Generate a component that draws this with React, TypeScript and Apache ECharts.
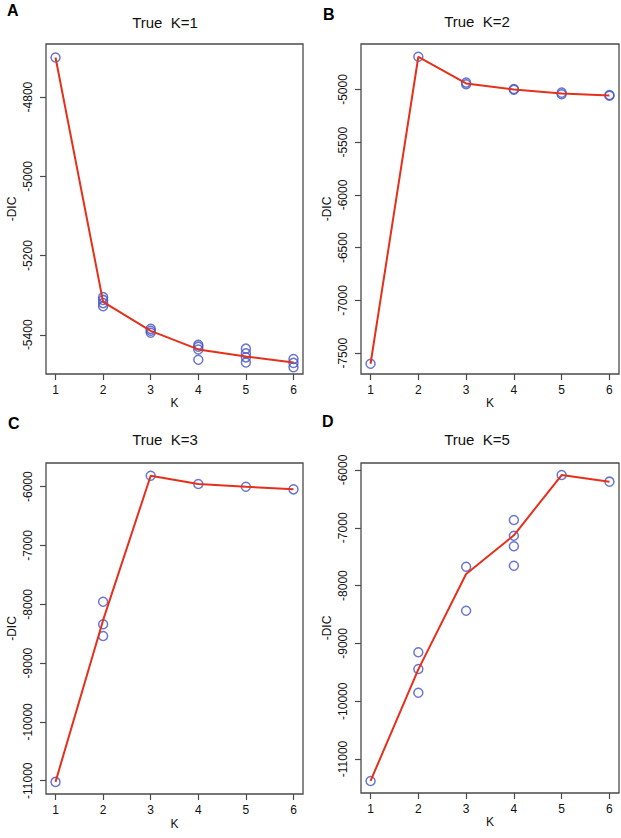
import React, { useEffect, useRef } from 'react';
import * as echarts from 'echarts';

// ---- data ----
const K = [1, 2, 3, 4, 5, 6];
const kTicks = [1, 2, 3, 4, 5, 6];
const titles = ['True  K=1', 'True  K=2', 'True  K=3', 'True  K=5'];
const letters = ['A', 'B', 'C', 'D'];

// individual runs (circles), one list per K
const runsA = [
  [-4700],
  [-5305, -5312, -5320, -5328],
  [-5385, -5390, -5395],
  [-5425, -5430, -5437, -5463],
  [-5435, -5447, -5457, -5470],
  [-5461, -5471, -5482],
];
const lineA = [-4700, -5317, -5390, -5437, -5455, -5470];
const ticksA = [-4800, -5000, -5200, -5400];

const runsB = [
  [-7600],
  [-4690],
  [-4935, -4950],
  [-4995, -5003],
  [-5030, -5045],
  [-5052, -5060],
];
const lineB = [-7600, -4690, -4943, -5000, -5038, -5057];
const ticksB = [-5000, -5500, -6000, -6500, -7000, -7500];

const runsC = [
  [-11020],
  [-7956, -8340, -8539],
  [-5813],
  [-5954],
  [-6000],
  [-6045],
];
const lineC = [-11020, -8270, -5813, -5954, -6000, -6045];
const ticksC = [-6000, -7000, -8000, -9000, -10000, -11000];

const runsD = [
  [-11380],
  [-9154, -9443, -9853],
  [-7673, -8434],
  [-6865, -7137, -7320, -7656],
  [-6087],
  [-6202],
];
const lineD = [-11380, -9450, -7800, -7130, -6087, -6202];
const ticksD = [-6000, -7000, -8000, -9000, -10000, -11000];

const FONT = 'Liberation Sans, Arial, Helvetica, sans-serif';
const RED = '#E5301B';
const BLUE = '#4552C2';
const FRAME = '#4a4a4a';

export default function App() {
  const ref = useRef<HTMLDivElement>(null);

  useEffect(() => {
    document.body.style.margin = '0';
    const chart = echarts.init(ref.current!, null, { renderer: 'svg' });

    const panels = [
      { runs: runsA, line: lineA, ticks: ticksA, yMin: -5499, yMax: -4666, left: 46, top: 44, width: 257, height: 330, titleX: 165, titleY: 22, letterX: 7, letterY: 2, kGap: 21 },
      { runs: runsB, line: lineB, ticks: ticksB, yMin: -7697, yMax: -4569, left: 361, top: 44, width: 258, height: 330, titleX: 477, titleY: 21, letterX: 323, letterY: 6, kGap: 21 },
      { runs: runsC, line: lineC, ticks: ticksC, yMin: -11226, yMax: -5597, left: 46, top: 463, width: 257, height: 331, titleX: 165, titleY: 439, letterX: 8, letterY: 415, kGap: 24 },
      { runs: runsD, line: lineD, ticks: ticksD, yMin: -11588, yMax: -5879, left: 361, top: 463, width: 258, height: 330, titleX: 477, titleY: 439, letterX: 322, letterY: 413, kGap: 22 },
    ];

    const grid = panels.map((p) => ({
      left: p.left,
      top: p.top,
      width: p.width,
      height: p.height,
      show: true,
      borderColor: FRAME,
      borderWidth: 1.3,
      backgroundColor: 'transparent',
      containLabel: false,
    }));

    const xAxis = panels.map((p, i) => ({
      type: 'value',
      gridIndex: i,
      min: 0.8,
      max: 6.2,
      name: 'K',
      nameLocation: 'middle',
      nameGap: p.kGap,
      nameTextStyle: { fontFamily: FONT, fontSize: 12, color: '#111' },
      axisLine: { show: false },
      splitLine: { show: false },
      axisTick: { show: true, inside: false, length: 6, customValues: kTicks, lineStyle: { color: FRAME, width: 1.2 } },
      axisLabel: {
        show: true,
        margin: 10,
        customValues: kTicks,
        fontFamily: FONT,
        fontSize: 12,
        color: '#111',
        formatter: (v: number) => String(v),
      },
    }));

    const yAxis = panels.map((p, i) => ({
      type: 'value',
      gridIndex: i,
      min: p.yMin,
      max: p.yMax,
      name: '-DIC',
      nameLocation: 'middle',
      nameGap: 28,
      nameRotate: 90,
      nameTextStyle: { fontFamily: FONT, fontSize: 12, color: '#111' },
      axisLine: { show: false },
      splitLine: { show: false },
      axisTick: { show: true, inside: false, length: 6, customValues: p.ticks, lineStyle: { color: FRAME, width: 1.2 } },
      axisLabel: {
        show: true,
        rotate: 90,
        margin: 12,
        customValues: p.ticks,
        fontFamily: FONT,
        fontSize: 12,
        color: '#111',
        formatter: (v: number) => String(v),
      },
    }));

    const series: any[] = [];
    panels.forEach((p, i) => {
      series.push({
        type: 'scatter',
        xAxisIndex: i,
        yAxisIndex: i,
        symbol: 'circle',
        symbolSize: 9,
        itemStyle: { color: 'transparent', borderColor: BLUE, borderWidth: 1.5 },
        data: p.runs.flatMap((vals, j) => vals.map((v) => [K[j], v])),
        z: 2,
        silent: true,
      });
      series.push({
        type: 'line',
        xAxisIndex: i,
        yAxisIndex: i,
        showSymbol: false,
        symbol: 'none',
        lineStyle: { color: RED, width: 2 },
        data: K.map((k, j) => [k, p.line[j]]),
        z: 3,
        silent: true,
      });
    });

    const graphic: any[] = [];
    panels.forEach((p, i) => {
      graphic.push({
        type: 'text',
        x: p.titleX,
        y: p.titleY,
        style: { text: titles[i], fontFamily: FONT, fontSize: 15, fill: '#111', textAlign: 'center', textVerticalAlign: 'middle' },
      });
      graphic.push({
        type: 'text',
        x: p.letterX,
        y: p.letterY,
        style: { text: letters[i], fontFamily: FONT, fontSize: 16, fontWeight: 'bold', fill: '#000', textAlign: 'left', textVerticalAlign: 'top' },
      });
    });

    chart.setOption({
      animation: false,
      backgroundColor: '#ffffff',
      grid,
      xAxis,
      yAxis,
      series,
      graphic,
    });

    return () => chart.dispose();
  }, []);

  return (
    <div
      ref={ref}
      style={{ width: 621, height: 838, position: 'fixed', left: 0, top: 0, background: '#fff' }}
    />
  );
}
